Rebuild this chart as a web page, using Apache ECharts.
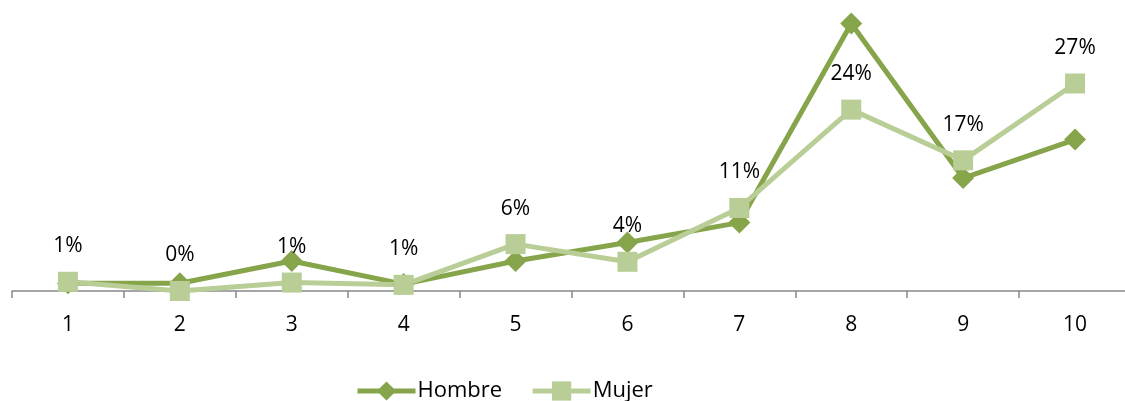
<!DOCTYPE html>
<html>
<head>
<meta charset="utf-8">
<script src="https://cdn.jsdelivr.net/npm/echarts@6/dist/echarts.min.js"></script>
<style>
  html, body { margin: 0; padding: 0; background: #fff; }
  #chart { width: 1125px; height: 401px; }
</style>
</head>
<body>
<div id="chart"></div>
<script>
var categories = ['1', '2', '3', '4', '5', '6', '7', '8', '9', '10'];
var hombre = [1.0, 1.0, 3.9, 0.9, 3.9, 6.3, 8.9, 34.8, 14.7, 19.7];
var mujer = [1.2, 0.0, 1.1, 0.8, 6.1, 3.8, 10.8, 23.6, 17.0, 27.0];

var chart = echarts.init(document.getElementById('chart'));
var font = 'Open Sans, Noto Sans, sans-serif';
var option = {
    animation: false,
    grid: { left: 12, top: 22, width: 1119, bottom: 110, outerBoundsMode: 'none', containLabel: false },
    legend: {
        top: 375,
        left: 350,
        itemWidth: 58,
        itemHeight: 24,
        itemGap: 28,
        textStyle: { fontFamily: font, fontSize: 22, color: '#000', padding: [0, 0, 0, -3] },
        lineStyle: { width: 5 },
        data: ['Hombre', 'Mujer']
    },
    xAxis: {
        type: 'category',
        data: categories,
        boundaryGap: true,
        axisLine: { lineStyle: { color: '#888', width: 1.5 } },
        axisTick: { show: true, length: 7, lineStyle: { color: '#888', width: 1.5 } },
        axisLabel: { margin: 24, fontFamily: font, fontSize: 21, color: '#000' }
    },
    yAxis: {
        type: 'value',
        min: 0,
        max: 35,
        show: false,
        splitLine: { show: false }
    },
    series: [
        {
            name: 'Hombre',
            type: 'line',
            data: hombre,
            symbol: 'diamond',
            symbolSize: 22,
            itemStyle: { color: '#86A449' },
            lineStyle: { color: '#86A449', width: 5 }
        },
        {
            name: 'Mujer',
            type: 'line',
            data: mujer,
            symbol: 'rect',
            symbolSize: 20,
            itemStyle: { color: '#B8CE96' },
            lineStyle: { color: '#B8CE96', width: 5 },
            label: {
                show: true,
                position: 'top',
                distance: 15,
                fontFamily: font,
                fontSize: 21,
                color: '#000',
                formatter: function (p) { return Math.round(p.value) + '%'; }
            }
        }
    ]
};
chart.setOption(option);
</script>
</body>
</html>
